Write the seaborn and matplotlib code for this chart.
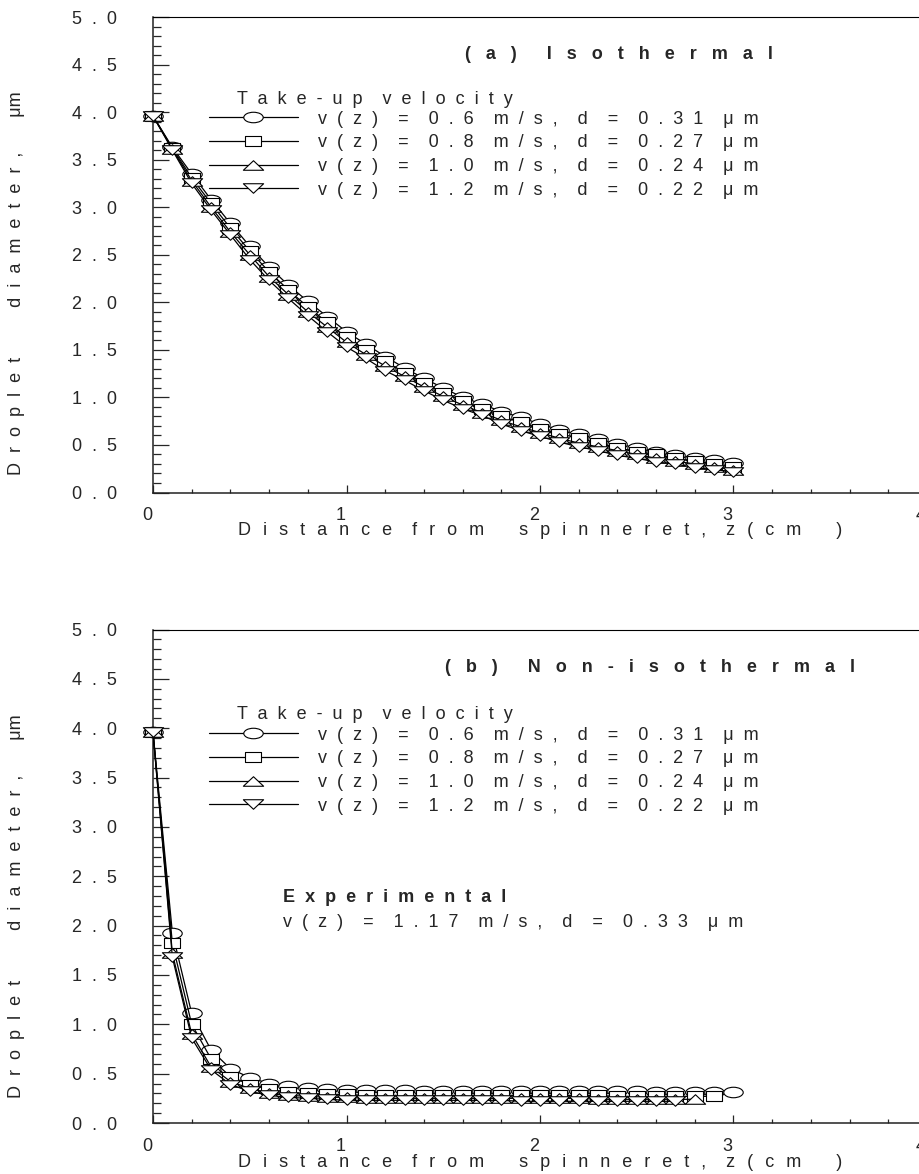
import numpy as np
import pandas as pd
import matplotlib
matplotlib.use('Agg')
import matplotlib.pyplot as plt
import seaborn as sns
from matplotlib.path import Path
from matplotlib.transforms import Affine2D, ScaledTranslation
from matplotlib.ticker import MultipleLocator, FuncFormatter

# ------------------------------
# Data
# ------------------------------
z_cm = [0.0, 0.1, 0.2, 0.3, 0.4, 0.5, 0.6, 0.7, 0.8, 0.9, 1.0,
        1.1, 1.2, 1.3, 1.4, 1.5, 1.6, 1.7, 1.8, 1.9, 2.0,
        2.1, 2.2, 2.3, 2.4, 2.5, 2.6, 2.7, 2.8, 2.9, 3.0]

velocities = ["0.6", "0.8", "1.0", "1.2"]
final_d = ["0.31", "0.27", "0.24", "0.22"]

# (a) isothermal
iso_06 = [3.96, 3.63, 3.35, 3.08, 2.83, 2.59, 2.37, 2.18, 2.01, 1.85, 1.69,
          1.56, 1.43, 1.31, 1.20, 1.10, 1.00, 0.93, 0.85, 0.79, 0.72,
          0.66, 0.61, 0.56, 0.51, 0.47, 0.43, 0.39, 0.36, 0.34, 0.31]
iso_08 = [3.96, 3.62, 3.31, 3.04, 2.78, 2.54, 2.32, 2.13, 1.95, 1.79, 1.63,
          1.50, 1.38, 1.26, 1.15, 1.05, 0.96, 0.88, 0.80, 0.74, 0.67,
          0.62, 0.57, 0.52, 0.47, 0.43, 0.40, 0.36, 0.33, 0.30, 0.27]
iso_10 = [3.96, 3.61, 3.28, 3.00, 2.74, 2.50, 2.27, 2.08, 1.90, 1.74, 1.58,
          1.45, 1.33, 1.22, 1.11, 1.01, 0.92, 0.84, 0.76, 0.69, 0.63,
          0.57, 0.52, 0.48, 0.44, 0.40, 0.36, 0.33, 0.30, 0.27, 0.24]
iso_12 = [3.96, 3.60, 3.25, 2.97, 2.71, 2.45, 2.23, 2.04, 1.86, 1.69, 1.53,
          1.41, 1.28, 1.18, 1.07, 0.97, 0.88, 0.81, 0.72, 0.65, 0.59,
          0.53, 0.48, 0.44, 0.39, 0.36, 0.32, 0.30, 0.26, 0.24, 0.22]

# (b) non-isothermal (runs stop at 3.0, 2.9, 2.8, 2.7 cm)
non_06 = [3.96, 1.93, 1.11, 0.74, 0.55, 0.46, 0.40, 0.37, 0.35, 0.34, 0.33,
          0.33, 0.33, 0.33, 0.32, 0.32, 0.32, 0.32, 0.32, 0.32, 0.32,
          0.32, 0.32, 0.32, 0.32, 0.32, 0.31, 0.31, 0.31, 0.31, 0.31]
non_08 = [3.96, 1.82, 1.00, 0.65, 0.47, 0.39, 0.34, 0.31, 0.30, 0.29, 0.29,
          0.28, 0.28, 0.28, 0.28, 0.28, 0.28, 0.28, 0.28, 0.28, 0.28,
          0.28, 0.28, 0.28, 0.27, 0.27, 0.27, 0.27, 0.27, 0.27]
non_10 = [3.96, 1.72, 0.90, 0.57, 0.42, 0.35, 0.30, 0.28, 0.27, 0.26, 0.26,
          0.25, 0.25, 0.25, 0.25, 0.25, 0.25, 0.25, 0.25, 0.25, 0.25,
          0.25, 0.25, 0.24, 0.24, 0.24, 0.24, 0.24, 0.24]
non_12 = [3.96, 1.68, 0.86, 0.54, 0.39, 0.32, 0.28, 0.26, 0.25, 0.24, 0.23,
          0.23, 0.23, 0.23, 0.23, 0.23, 0.23, 0.23, 0.23, 0.22, 0.22,
          0.22, 0.22, 0.22, 0.22, 0.22, 0.22, 0.22]

x_ticks = [0, 1, 2, 3, 4]


def sp(*words, gap=4, sep='  '):
    # the original uses very wide letter spacing
    return (' ' * gap).join(sep.join(w) for w in words)


def closed(verts):
    codes = [Path.MOVETO] + [Path.LINETO] * (len(verts) - 1) + [Path.CLOSEPOLY]
    return Path(verts + [verts[0]], codes)


oval = Path.unit_circle().transformed(Affine2D().scale(1.0, 0.54))
box = closed([(-1, -0.58), (1, -0.58), (1, 0.58), (-1, 0.58)])
tri_up = closed([(-1, -0.47), (1, -0.47), (0, 0.47)])
tri_dn = closed([(-1, 0.47), (1, 0.47), (0, -0.47)])
marker_set = [(oval, 14.0), (box, 11.8), (tri_up, 14.6), (tri_dn, 14.6)]

# ------------------------------
# Figure
# ------------------------------
sns.set_style('white')
plt.rcParams['font.family'] = ['Liberation Sans', 'DejaVu Sans']
fs = 13
wide = '   '            # letter gap of the bold titles
mid = '\u2004\u2004'    # letter gap of the x label

fig = plt.figure(figsize=(9.2, 11.74), dpi=100)
W, H = 920, 1174
ax_a = fig.add_axes([153 / W, 1 - 492.5 / H, 774 / W, 475.5 / H])
ax_b = fig.add_axes([153 / W, 1 - 1123 / H, 774 / W, 493.5 / H])

panels = [
    (ax_a, [iso_06, iso_08, iso_10, iso_12], sp("(a)", "Isothermal", gap=6, sep=wide), 0.403),
    (ax_b, [non_06, non_08, non_10, non_12], sp("(b)", "Non-isothermal", gap=6, sep=wide), 0.377),
]

xlabel = (sp("Distance", sep=mid) + ' ' * 4 + sp("from", sep=mid) + ' ' * 7
          + sp("spinneret,", sep=mid) + ' ' * 4
          + sp("z(cm", sep=mid) + ' ' * 7 + ')')
ylabel = sp("Droplet", "diameter,", gap=10) + ' ' * 7 + 'μm'

for ax, series, title, tx in panels:
    handles = []
    labels = []
    for k, vals in enumerate(series):
        mk, ms = marker_set[k]
        df = pd.DataFrame({'z': z_cm[:len(vals)], 'd': vals})
        sns.lineplot(data=df, x='z', y='d', ax=ax, color='black', lw=0.9,
                     marker=mk, markersize=ms, markerfacecolor='white',
                     markeredgecolor='black', markeredgewidth=0.8,
                     zorder=3 + k, legend=False, clip_on=False)
        handles.append(ax.lines[-1])
        labels.append(sp("v(z)", "=", velocities[k], "m/s,", "d", "=",
                         final_d[k], "μm", gap=4))

    ax.legend(handles, labels, loc='upper left', bbox_to_anchor=(0.0724, 0.803),
              frameon=False, handlelength=4.9, handletextpad=1.15,
              labelspacing=0.37, borderpad=0, borderaxespad=0, numpoints=1,
              fontsize=fs)
    ax.text(0.1085, 0.827, sp("Take-up", "velocity"), transform=ax.transAxes,
            fontsize=fs, ha='left', va='center')
    ax.text(tx, 0.922, title, transform=ax.transAxes, fontsize=fs,
            fontweight='bold', ha='left', va='center')

    ax.set_xlim(0, 4)
    ax.set_ylim(0, 5)
    ax.set_xticks(x_ticks)
    ax.set_xticklabels([str(t) for t in x_ticks])
    ax.xaxis.set_minor_locator(MultipleLocator(0.2))
    ax.yaxis.set_major_locator(MultipleLocator(0.5))
    ax.yaxis.set_minor_locator(MultipleLocator(0.1))
    ax.yaxis.set_major_formatter(FuncFormatter(lambda v, p: '  '.join(f"{v:.1f}")))
    ax.tick_params(axis='y', which='major', direction='in', length=11.3,
                   width=0.9, pad=26, labelsize=fs, left=True)
    ax.tick_params(axis='y', which='minor', direction='in', length=5.8,
                   width=0.9, left=True)
    ax.tick_params(axis='x', which='major', direction='in', length=5.6,
                   width=0.9, pad=10.5, labelsize=fs, bottom=True)
    ax.tick_params(axis='x', which='minor', direction='in', length=3.0,
                   width=0.9, bottom=True)
    shift = ScaledTranslation(-0.06, 0, fig.dpi_scale_trans)
    for lbl in ax.get_xticklabels():
        lbl.set_transform(lbl.get_transform() + shift)

    for side in ['left', 'bottom']:
        ax.spines[side].set_linewidth(1.1)
        ax.spines[side].set_color('#222222')
    ax.spines['top'].set_linewidth(0.8)
    ax.spines['top'].set_color('black')
    ax.spines['right'].set_visible(False)

    ax.set_xlabel(xlabel, fontsize=fs)
    ax.set_ylabel(ylabel, fontsize=fs)

ax_a.xaxis.set_label_coords(0.5, -0.061)
ax_b.xaxis.set_label_coords(0.5, -0.063)
ax_a.yaxis.set_label_coords(-0.166, 0.44)
ax_b.yaxis.set_label_coords(-0.166, 0.44)

ax_b.text(0.168, 0.456, sp("Experimental"), transform=ax_b.transAxes,
          fontsize=fs, fontweight='bold', ha='left', va='center')
ax_b.text(0.168, 0.407, sp("v(z)", "=", "1.17", "m/s,", "d", "=", "0.33", "μm", gap=4),
          transform=ax_b.transAxes, fontsize=fs, ha='left', va='center')

fig.savefig('out.png', dpi=100)
